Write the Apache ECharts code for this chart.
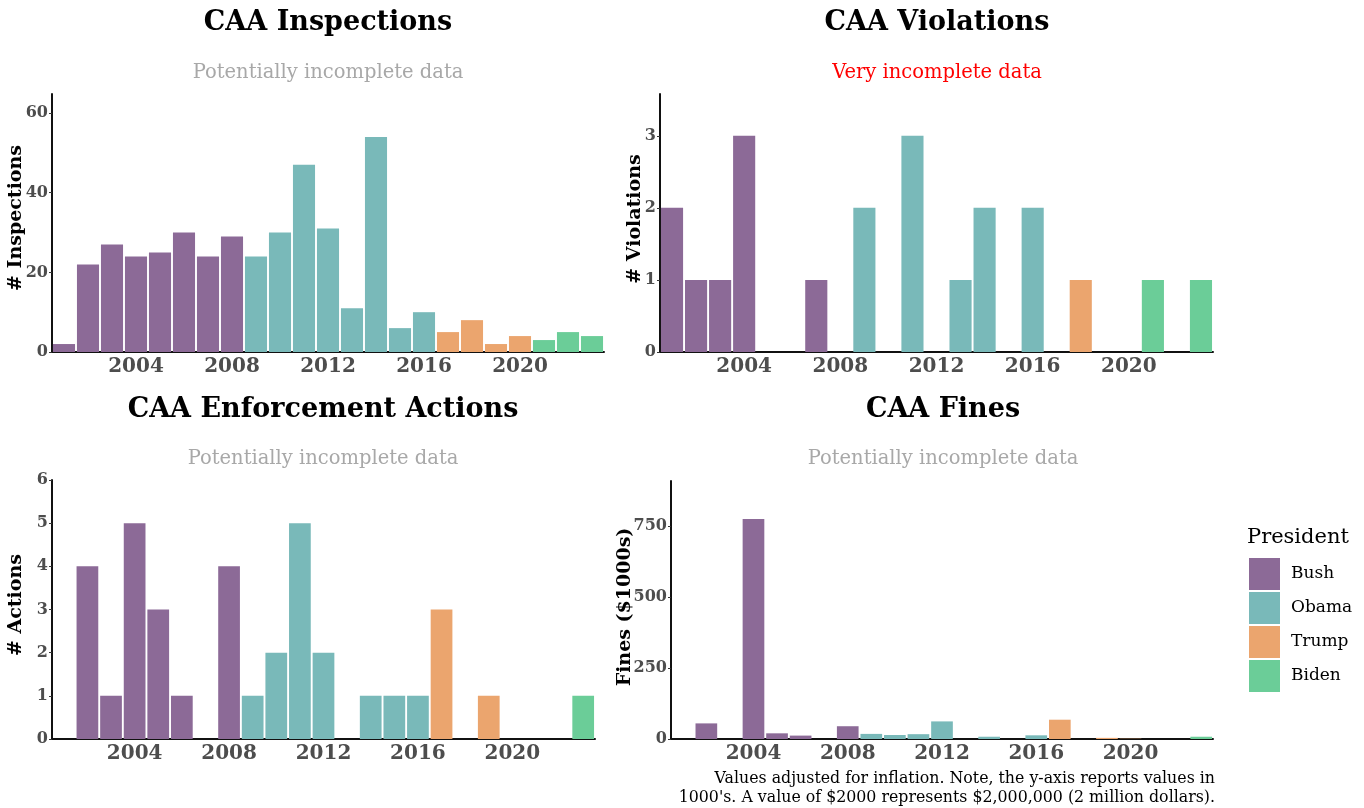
<!DOCTYPE html>
<html>
<head>
<meta charset="utf-8">
<script src="https://cdn.jsdelivr.net/npm/echarts@6/dist/echarts.min.js"></script>
<style>
html,body{margin:0;padding:0;background:#fff;}
#main{width:1364px;height:808px;}
</style>
</head>
<body>
<div id="main"></div>
<script>
// years and who was president
var years = ['2001','2002','2003','2004','2005','2006','2007','2008','2009','2010','2011','2012',
             '2013','2014','2015','2016','2017','2018','2019','2020','2021','2022','2023'];
var presidents = ['Bush','Obama','Trump','Biden'];
var presidentOf = ['Bush','Bush','Bush','Bush','Bush','Bush','Bush','Bush',
                   'Obama','Obama','Obama','Obama','Obama','Obama','Obama','Obama',
                   'Trump','Trump','Trump','Trump','Biden','Biden','Biden'];
var colors = {Bush:'#8c6a97', Obama:'#79b9b9', Trump:'#eba56e', Biden:'#6bcd98'};

// values per year
var inspections = [2,22,27,24,25,30,24,29,24,30,47,31,11,54,6,10,5,8,2,4,3,5,4];
var violations  = [2,1,1,3,0,0,1,0,2,0,3,0,1,2,0,2,0,1,0,0,1,0,1];
var actions     = [0,4,1,5,3,1,0,4,1,2,5,2,0,1,1,1,3,0,1,0,0,0,1];
var fines       = [0,55,0,775,20,12,0,45,18,14,17,62,0,8,0,13,68,0,4,1,0,0,8];

// tick labels
var xTicks = ['2004','2008','2012','2016','2020'];
var inspTicks = [0,20,40,60];
var violTicks = [0,1,2,3];
var actTicks = [0,1,2,3,4,5,6];
var fineTicks = [0,250,500,750];

var serif = '"DejaVu Serif", serif';

// yName drawn by hand so it can sit over the labels like the original
var panels = [
	{data: inspections, name: '# Inspections', max: 64.8, ticks: inspTicks, grid: {left:52, top:94, width:552, height:258}, nx:16, ny:218},
	{data: violations, name: '# Violations', max: 3.58, ticks: violTicks, grid: {left:660, top:94, width:553, height:258}, nx:635, ny:219},
	{data: actions, name: '# Actions', max: 6, ticks: actTicks, grid: {left:52, top:480, width:543, height:259}, nx:16, ny:605},
	{data: fines, name: 'Fines ($1000s)', max: 909, ticks: fineTicks, grid: {left:671, top:481, width:542, height:258}, nx:625, ny:607}
];

var showYear = function (idx, val) { return xTicks.indexOf(val) >= 0; };

var grids = [], xAxes = [], yAxes = [], series = [], yNames = [];
panels.forEach(function (p, i) {
	grids.push(p.grid);
	xAxes.push({
		type: 'category', gridIndex: i, data: years,
		axisLine: {lineStyle: {color: '#111', width: 2}},
		axisTick: {alignWithLabel: true, interval: showYear, length: 4, lineStyle: {color: '#333'}},
		axisLabel: {interval: showYear, color: '#4d4d4d', fontFamily: serif, fontWeight: 'bold', fontSize: 20, margin: 5}
	});
	yAxes.push({
		type: 'value', gridIndex: i, min: 0, max: p.max,
		axisLine: {show: true, lineStyle: {color: '#111', width: 2}},
		axisTick: {show: true, customValues: p.ticks, length: 3, lineStyle: {color: '#333'}},
		axisLabel: {customValues: p.ticks, color: '#4d4d4d', fontFamily: serif, fontWeight: 'bold', fontSize: 16, margin: 4},
		splitLine: {show: false}
	});
	yNames.push({type: 'text', x: p.nx, y: p.ny, rotation: Math.PI / 2, z: 10,
		style: {text: p.name, font: 'bold 19px ' + serif, fill: '#000', textAlign: 'center', textVerticalAlign: 'middle'}});
	presidents.forEach(function (pr) {
		series.push({
			type: 'bar', name: pr, xAxisIndex: i, yAxisIndex: i, stack: 'p' + i,
			barCategoryGap: '8%',
			itemStyle: {color: colors[pr]},
			data: p.data.map(function (v, j) { return presidentOf[j] === pr ? v : '-'; })
		});
	});
});

function txt(s, x, y, font, fill, align) {
	return {type: 'text', x: x, y: y, style: {text: s, font: font, fill: fill, textAlign: align || 'center', textVerticalAlign: 'middle'}};
}

var graphics = [
	txt('CAA Inspections', 328, 23, 'bold 27px ' + serif, '#000'),
	txt('Potentially incomplete data', 328, 73, '19.5px ' + serif, '#a8a8a8'),
	txt('CAA Violations', 937, 23, 'bold 27px ' + serif, '#000'),
	txt('Very incomplete data', 937, 73, '19.5px ' + serif, '#ff0000'),
	txt('CAA Enforcement Actions', 323, 410, 'bold 27px ' + serif, '#000'),
	txt('Potentially incomplete data', 323, 459, '19.5px ' + serif, '#a8a8a8'),
	txt('CAA Fines', 943, 410, 'bold 27px ' + serif, '#000'),
	txt('Potentially incomplete data', 943, 459, '19.5px ' + serif, '#a8a8a8'),
	txt('Values adjusted for inflation. Note, the y-axis reports values in', 1215, 779, '15.8px ' + serif, '#000', 'right'),
	txt("1000's. A value of $2000 represents $2,000,000 (2 million dollars).", 1215, 798, '15.8px ' + serif, '#000', 'right'),
	txt('President', 1247, 538, '21px ' + serif, '#000', 'left')
].concat(yNames);

var myChart = echarts.init(document.getElementById('main'));
myChart.setOption({
	backgroundColor: '#fff',
	animation: false,
	grid: grids,
	xAxis: xAxes,
	yAxis: yAxes,
	legend: {
		data: presidents, orient: 'vertical', left: 1244, top: 553,
		icon: 'rect', itemWidth: 31, itemHeight: 32, itemGap: 2,
		selectedMode: false,
		textStyle: {fontFamily: serif, fontSize: 17, color: '#000', padding: [0, 0, 0, 6]}
	},
	graphic: graphics,
	series: series
});
</script>
</body>
</html>
